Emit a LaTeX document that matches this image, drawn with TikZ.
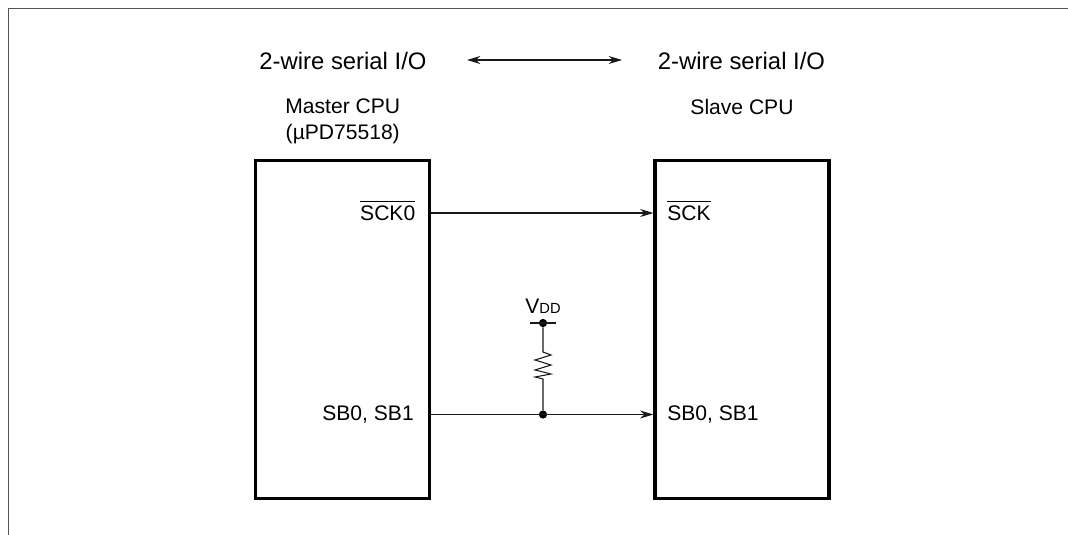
\documentclass[tikz,border=0pt]{standalone}
\usepackage{fontspec}
\setmainfont{Liberation Sans}
\usetikzlibrary{arrows.meta, positioning, calc}
\definecolor{framegray}{RGB}{85, 85, 85}
\definecolor{wiregray}{RGB}{25, 25, 25}

\begin{document}
\begin{tikzpicture}[
    x=0.75pt, y=-0.75pt,
    % Style definitions
    cpubox/.style={draw=black, line width=2.4pt, minimum width=130.5pt, minimum height=253.3pt, inner sep=0pt},
    titletext/.style={font=\fontsize{17.9}{20}\selectfont, inner sep=0pt},
    labeltext/.style={font=\fontsize{15.8}{19.5}\selectfont, inner sep=0pt, align=center},
    wirearrow/.style={{Stealth[length=10pt, width=6pt]}-{Stealth[length=10pt, width=6pt]}, line width=0.8pt, wiregray},
    signalarrow/.style={-{Stealth[length=10pt, width=6pt]}, line width=0.8pt, wiregray},
    wire/.style={line width=0.8pt, wiregray},
    dot/.style={circle, fill=black, inner sep=0pt, minimum size=6.2pt}
]
    \useasboundingbox (0,0) rectangle (1068,535);

    % === Frame ===
    \coordinate (frame_tl) at (8.5,8.5);
    \coordinate (frame_tr) at (1068,8.5);
    \coordinate (frame_bl) at (8.5,535);
    \draw [framegray, line width=0.8pt] (frame_bl) -- (frame_tl) -- (frame_tr);

    % === CPU boxes ===
    \node (master) [cpubox] at (342.75,329.5) {};
    \node (slave) [cpubox] at (742,329.5) {};

    % === Titles ===
    \node (master_mode) [titletext] at (343,61) {2-wire serial I/O};
    \node (slave_mode) [titletext] at (741.5,61) {2-wire serial I/O};
    \node (master_name) [labeltext, above=11pt of master.north] {Master CPU\\(µPD75518)};
    \node (slave_name) [labeltext, anchor=base] at (742,114) {Slave CPU};

    \coordinate (mode_a) at (467,60);
    \coordinate (mode_b) at (622,60);
    \draw [wirearrow] (mode_a) -- (mode_b);

    % === SCK line ===
    \node (master_sck) [labeltext, anchor=base east] at (415.5,220.5) {$\overline{\mbox{\rule{0pt}{13.4pt}SCK0}}$};
    \node (slave_sck) [labeltext, anchor=base west] at (667,220.5) {$\overline{\mbox{\rule{0pt}{13.4pt}SCK}}$};
    \coordinate (sck_level) at (543,213);
    \draw [signalarrow] (master.east |- sck_level) -- (slave.west |- sck_level);

    % === SB line ===
    \node (master_sb) [labeltext, anchor=base east] at (414,420.5) {SB0, SB1};
    \node (slave_sb) [labeltext, anchor=base west] at (667,420.5) {SB0, SB1};
    \node (junction) [dot] at (543,414.5) {};
    \draw [signalarrow] (master.east |- junction) -- (slave.west |- junction);

    % === Pull-up ===
    \node (vdd_dot) [dot] at (543,323) {};
    \node (vdd) [labeltext, above=4pt of vdd_dot] {V{\fontsize{11}{12}\selectfont DD}};
    \draw [wire] ($(vdd_dot)+(-13,0)$) -- ($(vdd_dot)+(13,0)$);
    \draw [wire] (vdd_dot) -- (543,352) -- ++(8,3) -- ++(-16,5) -- ++(16,5) -- ++(-16,5) -- ++(16,4) -- ++(-16,3) -- ++(8,2) -- (junction);

\end{tikzpicture}
\end{document}
